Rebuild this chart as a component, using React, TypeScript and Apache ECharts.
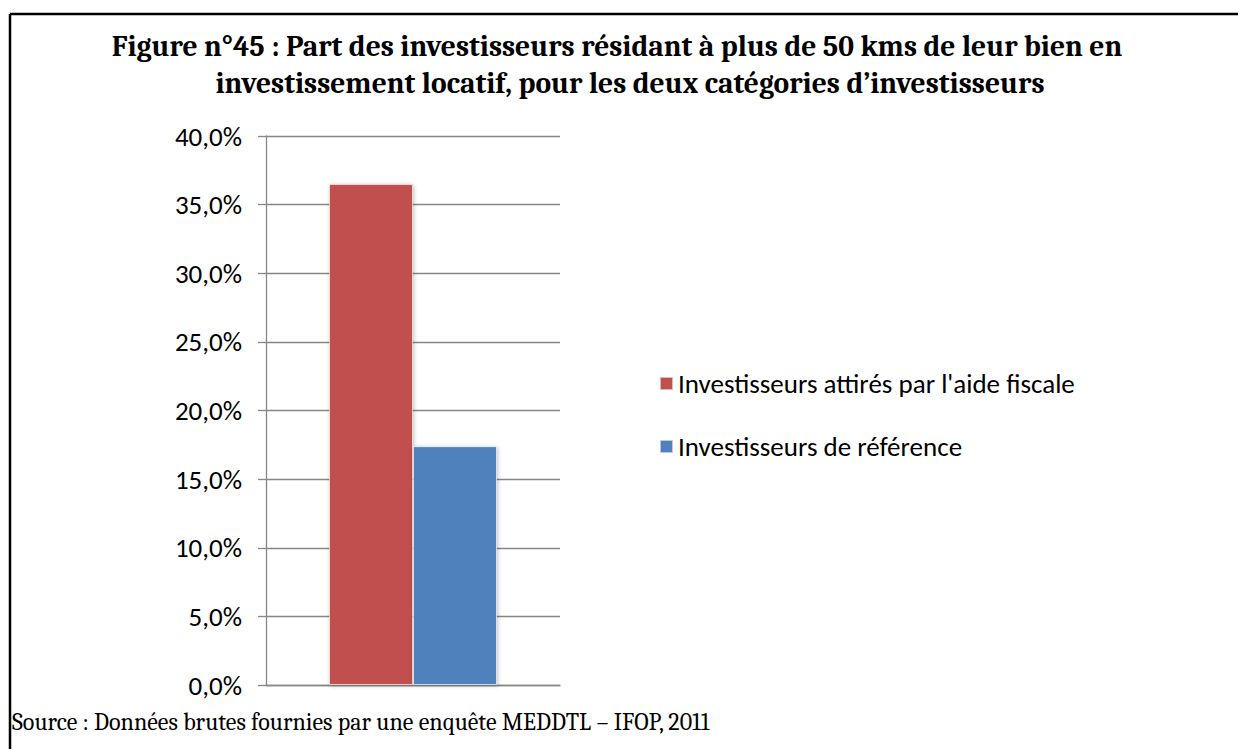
import React, { useEffect, useRef } from "react";
import * as echarts from "echarts";

const categories = ["Part à plus de 50 kms"];
const seriesNames = [
  "Investisseurs attirés par l'aide fiscale",
  "Investisseurs de référence",
];
const seriesValues = [[36.5], [17.4]];
const seriesColors = ["#C0504D", "#4F81BD"];
const yTicks = { min: 0, max: 40, interval: 5 };
const titleLines = [
  "Figure n°45 : Part des investisseurs résidant à plus de 50 kms de leur bien en",
  "investissement locatif, pour les deux catégories d’investisseurs",
];
const sourceText = "Source : Données brutes fournies par une enquête MEDDTL – IFOP, 2011";

const sansFont = "Carlito, Lato, 'Open Sans', sans-serif";
const serifFont = "Caladea, 'Liberation Serif', 'DejaVu Serif', serif";

export default function App() {
  const ref = useRef<HTMLDivElement>(null);
  useEffect(() => {
    if (!ref.current) return;
    const chart = echarts.init(ref.current, undefined, { renderer: "svg" });
    chart.setOption({
      animation: false,
      backgroundColor: "#ffffff",
      grid: { left: 266, right: 678, top: 136, bottom: 64, containLabel: false },
      legend: {
        orient: "vertical",
        left: 654,
        top: 365,
        itemWidth: 13,
        itemHeight: 13,
        itemGap: 36,
        icon: "rect",
        textStyle: { fontFamily: sansFont, fontSize: 27, color: "#000" },
        data: seriesNames,
      },
      xAxis: {
        type: "category",
        data: categories,
        axisLine: { show: true, lineStyle: { color: "#868686", width: 1.3 } },
        axisTick: { show: false },
        axisLabel: { show: false },
      },
      yAxis: {
        type: "value",
        min: yTicks.min,
        max: yTicks.max,
        interval: yTicks.interval,
        axisLine: { show: true, lineStyle: { color: "#868686", width: 1.3 } },
        axisTick: { show: true, length: 8, lineStyle: { color: "#868686", width: 1.3 } },
        axisLabel: {
          margin: 24,
          fontFamily: sansFont,
          fontSize: 27,
          color: "#000",
          formatter: (v: number) => v.toFixed(1).replace(".", ",") + "%",
        },
        splitLine: { show: true, lineStyle: { color: "#868686", width: 1.3 } },
      },
      series: seriesNames.map((name, i) => ({
        name,
        type: "bar",
        data: seriesValues[i],
        barWidth: 84,
        barGap: "0%",
        itemStyle: {
          color: seriesColors[i],
          borderColor: "rgba(255,255,255,0.6)",
          borderWidth: 1,
          shadowBlur: 4,
          shadowColor: "rgba(0,0,0,0.25)",
          shadowOffsetX: 1,
          shadowOffsetY: 1,
        },
      })),
      graphic: [
        {
          type: "line",
          shape: { x1: 10, y1: 14, x2: 1238, y2: 14 },
          style: { stroke: "#000", lineWidth: 2.5 },
        },
        {
          type: "line",
          shape: { x1: 10, y1: 14, x2: 10, y2: 749 },
          style: { stroke: "#000", lineWidth: 2.5 },
        },
        {
          type: "text",
          x: 617,
          y: 46,
          style: {
            text: titleLines[0],
            font: `bold 29.5px ${serifFont}`,
            fill: "#000",
            align: "center",
            verticalAlign: "middle",
          },
        },
        {
          type: "text",
          x: 630,
          y: 83,
          style: {
            text: titleLines[1],
            font: `bold 29.5px ${serifFont}`,
            fill: "#000",
            align: "center",
            verticalAlign: "middle",
          },
        },
        {
          type: "text",
          x: 12,
          y: 722,
          style: {
            text: sourceText,
            font: `24px ${serifFont}`,
            fill: "#000",
            align: "left",
            verticalAlign: "middle",
          },
        },
      ],
    });
    return () => chart.dispose();
  }, []);
  return (
    <div
      ref={ref}
      style={{ position: "fixed", left: 0, top: 0, width: 1238, height: 749 }}
    />
  );
}
